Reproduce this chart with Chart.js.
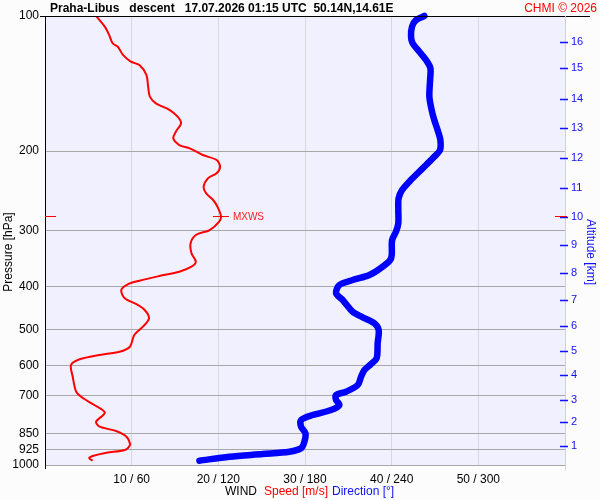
<!DOCTYPE html>
<html>
<head>
<meta charset="utf-8">
<script src="https://cdn.jsdelivr.net/npm/chart.js@4.4.1/dist/chart.umd.min.js"></script>
<style>
  html, body { margin:0; padding:0; background:#fcfcfc; }
  #wrap { width:600px; height:500px; }
</style>
</head>
<body>
<div id="wrap"><canvas id="sonde" width="600" height="500"></canvas></div>
<script>
'use strict';

// pressure axis ticks (hPa)
const pressTicks = [100, 200, 300, 400, 500, 600, 700, 850, 925, 1000];
// altitude ticks (km) and the pressure level where each one sits
const altKm    = [1, 2, 3, 4, 5, 6, 7, 8, 9, 10, 11, 12, 13, 14, 15, 16];
const altPress = [907, 803, 715, 630, 558, 490, 428, 374, 324, 280, 242, 207, 178, 153, 130.5, 114];

// wind speed profile [m/s] vs pressure [hPa]
const speedP = [100,105.6,110.2,115.0,117.1,122.1,126.4,128.6,135.3,143.7,151.2,156.5,162.0,167.6,173.4,
  181.0,187.3,193.8,197.1,204.0,209.3,216.6,224.0,229.9,240.0,248.3,256.9,266.0,278.9,287.2,299.7,307.5,
  320.8,337.7,352.6,361.7,371.1,379.4,388.6,395.3,407.6,425.3,437.9,451.6,471.3,492.0,513.5,545.2,559.4,
  568.9,581.6,598.9,636.0,686.8,710.1,735.1,764.7,800.9,821.7,840.0,864.9,902.5,926.1,939.0,955.0,966.3,978.1];
const speedV = [5.9,6.9,7.4,7.8,8.4,9.0,9.9,10.9,11.7,11.9,12.1,12.8,14.4,15.3,15.7,
  15.1,14.8,15.5,16.7,18.2,19.8,20.2,19.8,18.8,18.3,18.6,19.4,19.9,20.3,20.1,19.0,17.4,
  16.8,16.9,17.4,16.9,15.5,13.2,10.9,9.6,8.8,9.2,10.5,11.5,12.0,11.3,10.3,9.8,8.6,
  6.3,4.0,3.0,3.2,3.6,4.4,5.7,6.9,5.9,6.3,8.2,9.4,9.8,9.2,7.1,5.5,5.1,5.5];

// wind direction profile [deg] vs pressure [hPa]
const dirP = [100,102.1,105.6,111.2,115.0,120.1,125.3,130.7,138.8,151.2,162.0,170.5,179.4,188.8,198.8,
  205.8,214.7,224.0,233.9,244.1,254.7,270.4,289.6,302.3,315.5,346.5,361.7,377.5,387.3,397.3,414.6,429.0,
  455.6,468.8,483.5,500.4,535.8,578.7,595.8,614.4,636.0,663.6,686.8,698.3,716.5,735.1,754.3,773.9,793.9,
  821.7,849.9,887.3,918.0,934.2,945.3,958.4,978.1];
const dirV = [262.6,256.9,254.1,253.4,254.5,259.2,263.8,266.8,266.6,266.1,267.7,269.5,271.8,273.7,273.5,
  269.5,263.8,258.0,252.2,247.2,244.8,244.6,244.6,243.0,240.3,239.6,233.8,224.6,213.0,203.8,201.5,206.1,
  213.0,219.9,228.0,231.0,230.3,229.6,225.7,221.1,218.8,216.5,208.4,201.5,201.5,203.8,198.1,185.3,177.3,
  177.3,180.3,179.6,177.3,169.2,150.7,127.7,106.9];

// maximum wind
const mxwsP = 279;
const mxwsV = 20.3;

const titleText = 'Praha-Libus   descent   17.07.2026 01:15 UTC  50.14N,14.61E';
const FONT = "'Liberation Sans', Arial, sans-serif";
const BLUE = '#1010ff';

/* ---- frame, labels and marks the axes don't do themselves ---- */
const extras = {
  id: 'extras',
  beforeDraw(chart) {
    const {ctx, chartArea: a} = chart;
    ctx.save();
    ctx.fillStyle = '#fcfcfc';
    ctx.fillRect(0, 0, chart.width, chart.height);
    ctx.fillStyle = '#f0f0ff';
    ctx.fillRect(a.left, a.top, a.right - a.left, a.bottom - a.top);
    ctx.restore();
  },
  afterDraw(chart) {
    const {ctx, chartArea: a, scales} = chart;
    const yS = scales.y, xS = scales.x;
    ctx.save();

    // frame
    ctx.strokeStyle = '#000'; ctx.lineWidth = 1;
    ctx.beginPath();
    ctx.moveTo(40, a.top + 0.5); ctx.lineTo(590, a.top + 0.5);
    ctx.moveTo(a.left + 0.5, a.top); ctx.lineTo(a.left + 0.5, a.bottom + 4);
    ctx.stroke();
    ctx.strokeStyle = '#d0d0d0';
    ctx.beginPath();
    ctx.moveTo(a.right + 0.5, a.top); ctx.lineTo(a.right + 0.5, a.bottom + 5);
    ctx.stroke();

    // altitude tick marks
    ctx.strokeStyle = BLUE; ctx.lineWidth = 1.5;
    ctx.beginPath();
    altPress.forEach(p => {
      const y = Math.round(yS.getPixelForValue(p)) + 0.5;
      ctx.moveTo(a.right - 5, y); ctx.lineTo(a.right + 3, y);
    });
    ctx.stroke();

    // max wind marks
    const my = Math.round(yS.getPixelForValue(mxwsP)) + 0.5;
    const mx = xS.getPixelForValue(mxwsV);
    ctx.strokeStyle = '#ff0000'; ctx.lineWidth = 1;
    ctx.beginPath();
    ctx.moveTo(a.left, my); ctx.lineTo(a.left + 11, my);
    ctx.moveTo(a.right - 10, my); ctx.lineTo(a.right + 2, my);
    ctx.moveTo(mx - 8, my); ctx.lineTo(mx + 8, my);
    ctx.stroke();
    ctx.fillStyle = '#ff2020';
    ctx.font = '10px ' + FONT;
    ctx.textBaseline = 'middle'; ctx.textAlign = 'left';
    ctx.fillText('MXWS', mx + 12, my + 1);

    // title
    ctx.fillStyle = '#000';
    ctx.font = 'bold 12px ' + FONT;
    ctx.textBaseline = 'alphabetic';
    ctx.fillText(titleText, 50, 12);
    ctx.fillStyle = '#ff0000';
    ctx.font = '12px ' + FONT;
    ctx.textAlign = 'right';
    ctx.fillText('CHMI \u00a9 2026', 597, 12);

    // bottom legend
    ctx.textAlign = 'left';
    ctx.textBaseline = 'middle';
    ctx.fillStyle = '#000'; ctx.fillText('WIND', 225, 492);
    ctx.fillStyle = '#ff0000'; ctx.fillText('Speed [m/s]', 264, 492);
    ctx.fillStyle = BLUE; ctx.fillText('Direction [\u00b0]', 332, 492);

    // axis titles
    ctx.save();
    ctx.translate(9, 252);
    ctx.rotate(-Math.PI / 2);
    ctx.textAlign = 'center';
    ctx.fillStyle = '#000';
    ctx.fillText('Pressure [hPa]', 0, 0);
    ctx.restore();
    ctx.save();
    ctx.translate(590, 252);
    ctx.rotate(Math.PI / 2);
    ctx.textAlign = 'center';
    ctx.fillStyle = BLUE;
    ctx.fillText('Altitude [km]', 0, 0);
    ctx.restore();

    ctx.restore();
  }
};

const speedPts = speedP.map((p, i) => ({x: speedV[i], y: p}));
const dirPts = dirP.map((p, i) => ({x: dirV[i], y: p}));

new Chart(document.getElementById('sonde'), {
  type: 'scatter',
  data: {
    datasets: [
      {label: 'Direction', data: dirPts, xAxisID: 'xd', yAxisID: 'y', showLine: true,
       borderColor: '#0000ff', borderWidth: 6.5, pointRadius: 0, tension: 0.3,
       borderCapStyle: 'round', borderJoinStyle: 'round', clip: false},
      {label: 'Speed', data: speedPts, xAxisID: 'x', yAxisID: 'y', showLine: true,
       borderColor: '#ff0000', borderWidth: 2, pointRadius: 0, tension: 0.3}
    ]
  },
  options: {
    responsive: false, animation: false, devicePixelRatio: 1,
    layout: {padding: {top: 16, left: 0, right: 0, bottom: 0}},
    plugins: {legend: {display: false}, title: {display: false}, tooltip: {enabled: false}},
    scales: {
      x: {
        type: 'linear', position: 'bottom', min: 0, max: 60,
        afterFit: s => { s.height = 35; },
        afterBuildTicks: s => { s.ticks = [0,10,20,30,40,50,60].map(v => ({value: v})); },
        border: {display: false},
        grid: {drawTicks: false, color: c => (c.tick && (c.tick.value === 0 || c.tick.value === 60)) ? 'rgba(0,0,0,0)' : '#d8d8d8'},
        ticks: {padding: 7, color: '#000', font: {family: FONT, size: 12}, maxRotation: 0,
                autoSkip: false,
                callback: v => (v === 0 || v === 60) ? '' : `${v} / ${v * 6}`}
      },
      xd: {type: 'linear', min: 0, max: 360, display: false},
      y: {
        type: 'logarithmic', position: 'left', reverse: true, min: 100, max: 1000,
        afterFit: s => { s.width = 45; },
        afterBuildTicks: s => { s.ticks = pressTicks.map(v => ({value: v})); },
        border: {display: false},
        grid: {drawTicks: false, color: c => (c.tick && c.tick.value === 100) ? 'rgba(0,0,0,0)' : '#a8a8a8'},
        ticks: {padding: 6, color: '#000', font: {family: FONT, size: 12}, autoSkip: false,
                callback: v => String(v)}
      },
      y2: {
        type: 'logarithmic', position: 'right', reverse: true, min: 100, max: 1000,
        afterFit: s => { s.width = 35; },
        afterBuildTicks: s => { s.ticks = altPress.map(v => ({value: v})); },
        border: {display: false},
        grid: {drawOnChartArea: false, drawTicks: false},
        ticks: {padding: 6, color: BLUE, font: {family: FONT, size: 11}, autoSkip: false,
                callback: (v, i) => String(altKm[i])}
      }
    }
  },
  plugins: [extras]
});
</script>
</body>
</html>
